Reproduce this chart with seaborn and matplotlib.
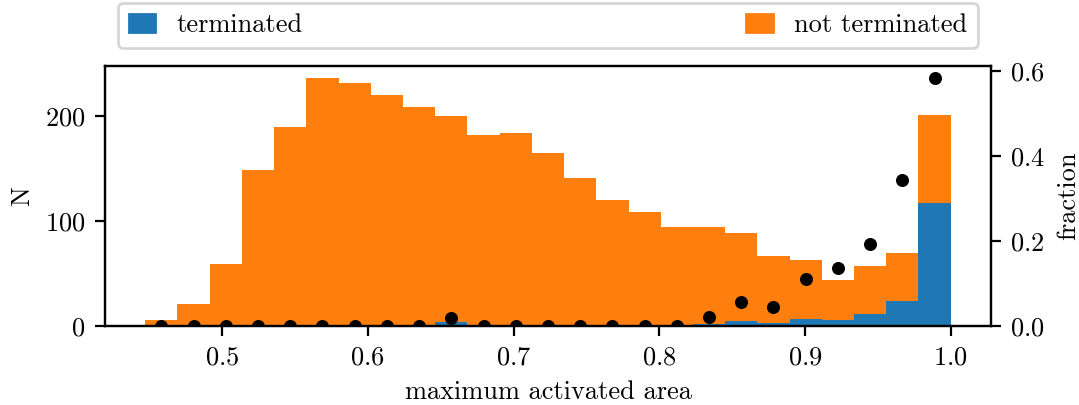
import numpy as np
import pandas as pd
import matplotlib
matplotlib.use("Agg")
import matplotlib.pyplot as plt
from matplotlib.patches import Patch
import seaborn as sns

# ---- data ----
bin_lo, bin_hi, n_bins = 0.4473, 1.0, 25
total_counts = [6, 21, 59, 149, 190, 236, 232, 220, 209, 200, 182, 184, 165,
                141, 120, 109, 94, 94, 89, 67, 63, 44, 57, 70, 201]
terminated_counts = [0, 0, 0, 0, 0, 0, 0, 0, 0, 4, 0, 0, 0,
                     0, 0, 0, 0, 2, 5, 3, 7, 6, 11, 24, 117]
labels = ["terminated", "not terminated"]
colors = {"terminated": "#1f77b4", "not terminated": "#ff7f0e"}

edges = np.linspace(bin_lo, bin_hi, n_bins + 1)
centers = 0.5 * (edges[:-1] + edges[1:])
term = np.array(terminated_counts, dtype=float)
tot = np.array(total_counts, dtype=float)
not_term = tot - term
fraction = term / tot

df = pd.DataFrame({
    "x": np.concatenate([centers, centers]),
    "w": np.concatenate([not_term, term]),
    "status": ["not terminated"] * n_bins + ["terminated"] * n_bins,
})
df_frac = pd.DataFrame({"x": centers, "fraction": fraction})

plt.rcParams["font.family"] = "serif"
plt.rcParams["font.serif"] = ["cmr10", "DejaVu Serif"]
plt.rcParams["mathtext.fontset"] = "cm"
plt.rcParams["axes.formatter.use_mathtext"] = True
plt.rcParams["font.size"] = 9.5

fig = plt.figure(figsize=(5.395, 2.025), dpi=200)
ax = fig.add_axes([0.0973, 0.195, 0.8211, 0.642])

sns.histplot(data=df, x="x", weights="w", hue="status",
             hue_order=["not terminated", "terminated"],
             multiple="stack", bins=n_bins, binrange=(bin_lo, bin_hi),
             palette=colors, alpha=1, linewidth=0, edgecolor="none",
             legend=False, ax=ax)
ax.set_xlabel("maximum activated area")
ax.set_ylabel("N")
ax.set_yticks([0, 100, 200])
ax.set_xticks([0.5, 0.6, 0.7, 0.8, 0.9, 1.0])

ax2 = ax.twinx()
sns.scatterplot(data=df_frac, x="x", y="fraction", color="black", s=22,
                linewidth=0, legend=False, ax=ax2, zorder=3)
ax2.set_ylim(bottom=0)
ax2.set_ylabel("fraction")
ax2.set_yticks([0.0, 0.2, 0.4, 0.6])

handles = [Patch(color=colors[l]) for l in labels]
ax.legend(handles, labels, bbox_to_anchor=(0, 1.02, 1, 0.102), loc="lower left",
          mode="expand", ncol=2, borderaxespad=0.5, handlelength=1.0,
          handletextpad=0.8)

fig.savefig("out.png", dpi=200)
